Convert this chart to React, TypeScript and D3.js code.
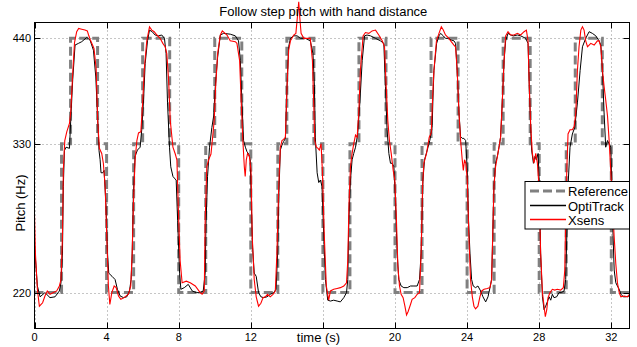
import React from 'react';
import * as d3 from 'd3';

const chartTitle = 'Follow step pitch with hand distance';
const xLabel = 'time (s)';
const yLabel = 'Pitch (Hz)';
const xTicks = [0, 4, 8, 12, 16, 20, 24, 28, 32];
const xTickLabels = ['0', '4', '8', '12', '', '20', '24', '28', '32'];
const yTicks = [220, 330, 440];
const yTickLabels = ['220', '330', '440'];
const seriesNames = ['Reference', 'OptiTrack', 'Xsens'];
const seriesColors = ['#808080', '#000000', '#ff0000'];

const refTimes = [0, 1.5, 2, 3.5, 4, 5.5, 6, 7.5, 8, 9.5, 10, 11.5, 12, 13.5, 14, 15.5, 16, 17.5, 18, 19.5, 20, 21.5, 22, 23.5, 24, 25.5, 26, 27.5, 28, 29.5, 30, 31.5, 32, 33.01];
const refPitch = [220, 330, 440, 330, 220, 330, 440, 330, 220, 330, 440, 330, 220, 330, 440, 330, 220, 330, 440, 330, 220, 330, 440, 330, 220, 330, 440, 330, 220, 330, 440, 330, 220, 220];

const optiTrack: [number, number][] = [
  [0,250],[0.16,224],[0.31,217.5],[0.58,220],[0.86,217],[1.14,217.5],[1.38,221],[1.47,226],[1.55,245],[1.6,294],[1.66,324],[1.75,327],[1.94,326],[2.01,352],[2.12,393],[2.25,432],[2.44,434],[2.62,436],[2.9,441],[3.08,438],[3.27,426],[3.4,396],[3.51,352],[3.58,324],[3.64,316],[3.69,305],[3.79,305],[3.86,307],[3.97,278],[4.05,245],[4.12,232],[4.3,230],[4.47,228],[4.6,222],[4.75,218],[4.94,217],[5.12,217.5],[5.27,221],[5.36,228],[5.42,245],[5.49,289],[5.58,319],[5.71,324.5],[5.86,327],[5.95,343],[6.05,372],[6.14,411],[6.27,437],[6.38,450],[6.53,448],[6.69,444],[6.88,443],[7.06,444],[7.21,440],[7.3,422],[7.38,369],[7.49,327],[7.56,310],[7.68,302],[7.79,300],[7.86,299],[7.94,268],[8.05,232],[8.12,222],[8.31,223],[8.53,225],[8.75,221],[8.97,220],[9.19,220],[9.36,221],[9.47,232],[9.51,263],[9.6,302],[9.71,327],[9.84,345],[9.94,356],[10.03,386],[10.16,418],[10.31,444],[10.49,446],[10.86,445],[11.14,443],[11.32,437],[11.42,414],[11.51,369],[11.6,333],[11.7,327],[11.79,323],[11.88,321],[11.97,316],[12.03,281],[12.1,249],[12.19,232],[12.3,230],[12.43,220],[12.56,217.5],[12.71,217],[12.9,217.5],[13.08,219],[13.27,220],[13.4,222],[13.49,245],[13.56,289],[13.64,324.5],[13.73,329],[13.82,332],[13.92,335],[14.01,386],[14.1,430],[14.2,440],[14.38,443],[14.57,443],[14.75,440],[15.03,440],[15.3,437],[15.45,422],[15.53,386],[15.58,336],[15.68,305],[15.77,297],[15.86,299],[15.95,294],[16.05,256],[16.14,228],[16.27,215.5],[16.42,215],[16.6,215.5],[16.79,215],[16.97,214.5],[17.16,217],[17.31,220],[17.38,228],[17.44,268],[17.53,299],[17.62,316],[17.71,321.5],[17.81,327],[17.93,339],[18.05,369],[18.18,414],[18.31,443],[18.45,444],[18.64,443],[18.92,440],[19.19,437],[19.38,434],[19.47,386],[19.56,343],[19.66,321.5],[19.75,313],[19.84,313],[19.94,310],[20.03,281],[20.12,245],[20.21,228],[20.34,224],[20.49,223],[20.68,223],[20.86,224],[21.05,224],[21.23,224],[21.36,228],[21.45,245],[21.55,299],[21.64,316],[21.79,324.5],[21.93,333],[22.06,345],[22.1,370],[22.16,403],[22.31,434],[22.44,443],[22.53,446],[22.68,443],[22.8,440],[22.99,440],[23.12,438],[23.27,437],[23.36,434],[23.45,403],[23.55,359],[23.64,336.5],[23.73,335],[23.82,335],[23.92,333],[24.01,307],[24.08,268],[24.16,245],[24.25,228],[24.34,224],[24.47,223],[24.6,224],[24.75,221],[24.88,217.5],[25.03,214.5],[25.16,217.5],[25.27,223],[25.36,228],[25.42,256],[25.49,294],[25.58,313],[25.68,319],[25.77,327],[25.86,336.5],[25.95,369],[26.05,414],[26.14,437],[26.27,446],[26.42,444],[26.57,443],[26.79,444],[26.97,443],[27.25,440],[27.38,434],[27.45,386],[27.53,343],[27.58,324.5],[27.68,313],[27.77,319],[27.84,316],[27.94,321.5],[28.01,294],[28.08,245],[28.18,217.5],[28.27,210],[28.36,212],[28.45,214.5],[28.55,217.5],[28.64,215.5],[28.73,219],[28.82,217],[28.97,217.5],[29.1,220],[29.23,220],[29.38,221],[29.47,228],[29.53,256],[29.6,294],[29.71,327],[29.84,339],[29.97,345],[30.12,369],[30.27,403],[30.4,430],[30.58,440],[30.77,448],[30.95,446],[31.14,443],[31.32,437],[31.42,432],[31.51,403],[31.6,359],[31.69,327],[31.79,333],[31.88,330],[31.97,327],[32.03,294],[32.1,256],[32.16,234],[32.25,226],[32.34,224],[32.44,222],[32.53,219],[32.68,217.5],[32.8,217.5],[33.01,218]
];

const xsens: [number, number][] = [
  [0,272],[0.05,245],[0.16,222],[0.27,212],[0.45,214],[0.58,218],[0.71,221],[0.86,219],[1.05,220],[1.23,221],[1.38,224],[1.47,228],[1.55,256],[1.6,307],[1.68,333],[1.79,341],[1.94,349],[2.01,360],[2.12,400],[2.22,435],[2.34,448],[2.45,452],[2.62,451],[2.8,450],[2.93,449],[3.0,444],[3.1,438],[3.3,428],[3.42,405],[3.51,350],[3.6,326],[3.73,321.5],[3.82,313],[3.92,294],[4.01,256],[4.1,224],[4.18,213],[4.29,220],[4.42,224],[4.53,223],[4.66,218],[4.79,216],[4.97,217],[5.21,219],[5.34,224],[5.42,245],[5.49,281],[5.58,316],[5.68,333],[5.77,340],[5.9,341],[6.0,369],[6.1,407],[6.23,437],[6.38,454],[6.51,450],[6.64,448],[6.79,444],[6.97,440],[7.12,434],[7.25,430],[7.34,422],[7.44,393],[7.53,352],[7.68,327],[7.81,321],[7.9,316],[8.0,268],[8.08,240],[8.19,226],[8.42,227],[8.64,226],[8.92,224],[9.19,220],[9.3,219],[9.42,221],[9.47,268],[9.56,310],[9.66,316],[9.79,321],[9.9,339],[9.97,352],[10.05,386],[10.16,422],[10.31,444],[10.42,449],[10.68,444],[10.86,437],[11.14,436],[11.23,434],[11.38,414],[11.47,369],[11.56,333],[11.64,310],[11.69,302],[11.75,316],[11.82,321.5],[11.92,319],[12.01,307],[12.08,256],[12.19,228],[12.3,217.5],[12.43,212],[12.56,213.7],[12.68,217],[12.8,217.5],[12.93,219],[13.08,217.5],[13.23,219],[13.36,221],[13.45,245],[13.55,294],[13.64,327],[13.73,333],[13.82,334],[13.92,336],[14.01,386],[14.1,426],[14.2,437],[14.38,444],[14.5,446],[14.6,470],[14.66,486],[14.72,465],[14.79,446],[14.94,440],[15.12,440],[15.3,440],[15.42,414],[15.49,369],[15.55,333],[15.64,327],[15.73,326],[15.8,324.5],[15.9,330],[15.97,307],[16.08,256],[16.19,224],[16.32,215.5],[16.42,221],[16.6,222],[16.79,222.5],[16.97,223],[17.16,224],[17.31,226],[17.38,240],[17.45,281],[17.53,310],[17.62,321.5],[17.71,330],[17.81,338],[17.9,336],[17.99,359],[18.08,403],[18.23,443],[18.36,447],[18.55,446],[18.73,449],[18.92,450],[19.1,444],[19.29,437],[19.42,430],[19.51,386],[19.6,352],[19.69,333],[19.79,321.5],[19.9,307],[19.99,299],[20.08,268],[20.16,236],[20.25,224],[20.34,219],[20.45,217],[20.55,212],[20.64,207],[20.73,209],[20.86,213],[20.95,216],[21.1,217],[21.23,219],[21.36,220],[21.45,245],[21.53,294],[21.6,313],[21.75,321.5],[21.9,336],[22.01,340],[22.1,380],[22.16,403],[22.3,437],[22.44,446],[22.57,454],[22.68,450],[22.8,444],[22.99,440],[23.12,436],[23.27,432],[23.36,430],[23.45,403],[23.55,359],[23.64,333],[23.73,316],[23.79,307],[23.86,316],[23.93,313],[24.01,299],[24.1,256],[24.19,228],[24.29,217.5],[24.38,212],[24.47,210.5],[24.6,212],[24.71,217.5],[24.81,221],[24.94,222],[25.12,222.5],[25.27,223],[25.36,228],[25.42,256],[25.49,294],[25.58,310],[25.68,319],[25.77,327],[25.86,336.5],[25.95,369],[26.05,414],[26.14,443],[26.27,448],[26.42,444],[26.6,444],[26.79,446],[26.97,444],[27.16,448],[27.29,450],[27.38,437],[27.45,386],[27.53,346],[27.62,321.5],[27.71,313],[27.81,321.5],[27.9,313],[27.99,294],[28.08,245],[28.18,220],[28.27,212],[28.34,206],[28.42,210],[28.49,217],[28.6,220],[28.73,222],[28.86,221.5],[29.01,222],[29.19,221.5],[29.34,223],[29.42,234],[29.47,268],[29.53,307],[29.6,339],[29.71,343],[29.84,343],[29.94,346],[30.03,359],[30.12,403],[30.21,430],[30.31,450],[30.4,454],[30.49,450],[30.58,437],[30.68,430],[30.77,432],[30.86,434],[31.05,432],[31.23,437],[31.32,437],[31.42,430],[31.51,403],[31.6,386],[31.69,372],[31.79,356],[31.88,333],[31.97,307],[32.06,281],[32.16,256],[32.25,238],[32.34,226],[32.44,220],[32.53,217.5],[32.71,218],[32.9,217.5],[33.01,219]
];

const W = 637;
const H = 347;
const L = 34.5, R = 629.5, T = 22.5, B = 328.5;
const FONT = '"Liberation Sans", Arial, Helvetica, sans-serif';

export default function App() {
  const x = d3.scaleLinear().domain([0, 33.01]).range([L, R]);
  const y = d3.scaleLog().domain([199.5, 459.4]).range([B, T]);

  const refData = refTimes.map((t, i) => [t, refPitch[i]] as [number, number]);
  const refLine = d3.line<[number, number]>().x(d => x(d[0])).y(d => y(d[1])).curve(d3.curveStepAfter);
  const sigLine = d3.line<[number, number]>().x(d => x(d[0])).y(d => y(d[1]));

  const tickLen = 6;
  const legX = 525, legY = 181.5, legW = 104.5, legH = 47.5;
  const legRows = [191, 205.5, 219.5];

  return (
    <svg width={W} height={H} style={{ position: 'absolute', left: 0, top: 0, background: '#fff' }} fontFamily={FONT}>
      <rect x={0} y={0} width={W} height={H} fill="#fff" />
      {xTicks.map(t => (
        <line key={'gx' + t} x1={Math.round(x(t)) + 0.5} x2={Math.round(x(t)) + 0.5} y1={T} y2={B} stroke="#8c8c8c" strokeWidth={1} strokeDasharray="1,3" />
      ))}
      {yTicks.map(v => (
        <line key={'gy' + v} x1={L} x2={R} y1={Math.round(y(v)) + 0.5} y2={Math.round(y(v)) + 0.5} stroke="#8c8c8c" strokeWidth={1} strokeDasharray="1,3" />
      ))}
      <path d={refLine(refData) || ''} fill="none" stroke={seriesColors[0]} strokeWidth={3} strokeDasharray="9,4" />
      <path d={sigLine(optiTrack) || ''} fill="none" stroke={seriesColors[1]} strokeWidth={1} />
      <path d={sigLine(xsens) || ''} fill="none" stroke={seriesColors[2]} strokeWidth={1.1} />
      <rect x={L} y={T} width={R - L} height={B - T} fill="none" stroke="#000" strokeWidth={1} />
      {xTicks.map(t => (
        <g key={'tx' + t}>
          <line x1={Math.round(x(t)) + 0.5} x2={Math.round(x(t)) + 0.5} y1={B} y2={B - tickLen} stroke="#000" />
          <line x1={Math.round(x(t)) + 0.5} x2={Math.round(x(t)) + 0.5} y1={T} y2={T + tickLen} stroke="#000" />
        </g>
      ))}
      {yTicks.map(v => (
        <g key={'ty' + v}>
          <line x1={L} x2={L + tickLen} y1={Math.round(y(v)) + 0.5} y2={Math.round(y(v)) + 0.5} stroke="#000" />
          <line x1={R} x2={R - tickLen} y1={Math.round(y(v)) + 0.5} y2={Math.round(y(v)) + 0.5} stroke="#000" />
        </g>
      ))}
      {xTicks.map((t, i) => (
        <text key={'lx' + t} x={x(t)} y={341} fontSize={11} textAnchor="middle" fill="#000">{xTickLabels[i]}</text>
      ))}
      {yTicks.map((v, i) => (
        <text key={'ly' + v} x={31} y={y(v)} fontSize={11} textAnchor="end" dominantBaseline="central" fill="#000">{yTickLabels[i]}</text>
      ))}
      <text x={323.3} y={16} fontSize={13} textAnchor="middle" fill="#000">{chartTitle}</text>
      <text x={318.5} y={341.5} fontSize={13} textAnchor="middle" fill="#000">{xLabel}</text>
      <text transform="translate(24.5,203) rotate(-90)" fontSize={13} textAnchor="middle" fill="#000">{yLabel}</text>
      <rect x={legX} y={legY} width={legW} height={legH} fill="#fff" stroke="#000" strokeWidth={1} />
      {seriesNames.map((name, i) => (
        <g key={'leg' + name}>
          <path d={`M530,${legRows[i]}H566`} fill="none" stroke={seriesColors[i]}
            strokeWidth={i === 0 ? 3 : 1.3} strokeDasharray={i === 0 ? '9,4' : undefined} />
          <text x={568} y={legRows[i] + 5} fontSize={13} fill="#000">{name}</text>
        </g>
      ))}
    </svg>
  );
}
